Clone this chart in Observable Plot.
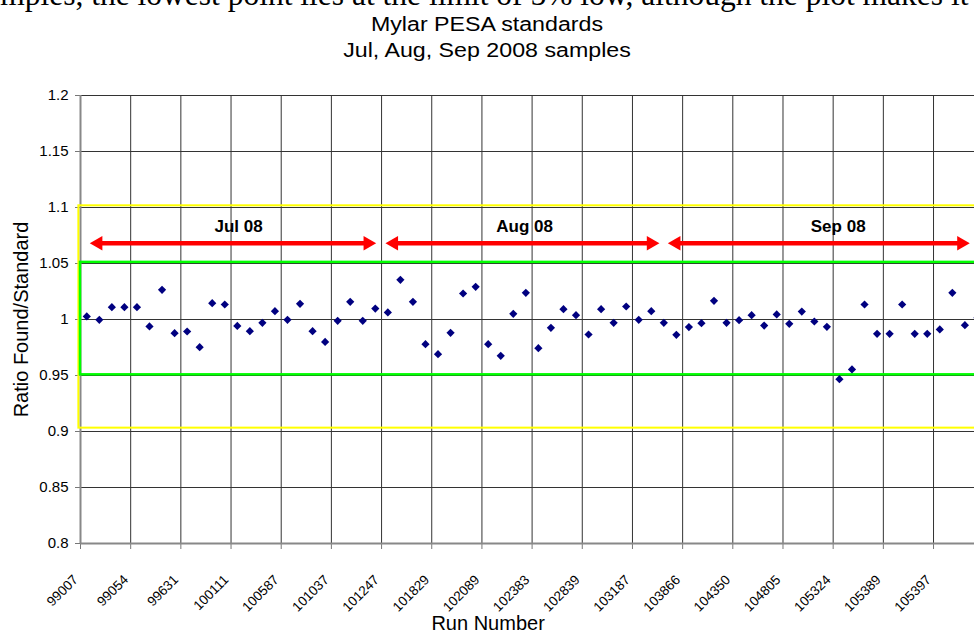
<!DOCTYPE html>
<html>
<head>
<meta charset="utf-8">
<script src="https://cdn.jsdelivr.net/npm/d3@7"></script>
<script src="https://cdn.jsdelivr.net/npm/@observablehq/plot@0.6"></script>
<style>
  html, body { margin: 0; padding: 0; background: #fff; width: 974px; height: 633px; overflow: hidden; }
  #header { position: relative; width: 974px; height: 70px; overflow: hidden; font-family: "Liberation Sans", Arial, sans-serif; }
  #doctext { position: absolute; left: -26px; top: -21px; white-space: nowrap; font-family: "Liberation Serif", "Times New Roman", serif; font-size: 31.5px; line-height: 31.5px; color: #000; }
  .title { position: absolute; left: 0; width: 974px; text-align: center; font-size: 20px; line-height: 20px; color: #000; transform: scaleX(1.16); transform-origin: 487px 0; }
  #chart svg { display: block; max-width: none; }
</style>
</head>
<body>
<div id="header">
  <div id="doctext">samples, the lowest point lies at the limit of 5% low, although the plot makes it look</div>
  <div class="title" style="top:14px">Mylar PESA standards</div>
  <div class="title" style="top:40px">Jul, Aug, Sep 2008 samples</div>
</div>
<div id="chart"></div>
<script>
// Run-number tick labels (one every 4 runs)
const runLabels = ["99007","99054","99631","100111","100587","101037","101247","101829","102089",
  "102383","102839","103187","103866","104350","104805","105324","105389","105397"];
const labelEvery = 4;
const nRuns = 72;

// Ratio Found/Standard for each run, in run order
const ratios = [
  1.0027, 0.9997, 1.0110, 1.0110, 1.0110, 0.9938, 1.0265, 0.9878, 0.9893, 0.9753,
  1.0146, 1.0134, 0.9943, 0.9896, 0.9970, 1.0074, 0.9997, 1.0140, 0.9896, 0.9800,
  0.9988, 1.0158, 0.9988, 1.0098, 1.0063, 1.0354, 1.0158, 0.9780, 0.9690, 0.9881,
  1.0232, 1.0292, 0.9780, 0.9676, 1.0051, 1.0238, 0.9744, 0.9926, 1.0092, 1.0039,
  0.9866, 1.0092, 0.9970, 1.0116, 0.9997, 1.0074, 0.9970, 0.9863, 0.9932, 0.9967,
  1.0167, 0.9970, 0.9994, 1.0039, 0.9946, 1.0045, 0.9961, 1.0071, 0.9982, 0.9935,
  0.9467, 0.9554, 1.0134, 0.9872, 0.9872, 1.0134, 0.9872, 0.9872, 0.9911, 1.0238,
  0.9949, 1.0015
];

// Y axis ticks
const yTicks = [0.8, 0.85, 0.9, 0.95, 1, 1.05, 1.1, 1.15, 1.2];
const yTickLabels = ["0.8", "0.85", "0.9", "0.95", "1", "1.05", "1.1", "1.15", "1.2"];

// Month periods (arrow extent in run units, label position)
const periodNames = ["Jul 08", "Aug 08", "Sep 08"];
const periodStart = [0.74, 24.31, 46.82];
const periodEnd = [23.57, 46.15, 70.89];
const periodLabelX = [12.6, 35.4, 60.4];
const arrowY = 1.068;
const periodLabelY = 1.0833;

// Limit boxes
const yellowBox = {y1: 0.903, y2: 1.1015, x1: -0.13};
const greenBox = {y1: 0.9506, y2: 1.051, x1: 0};

const points = ratios.map((v, i) => ({x: i + 0.5, v}));
const tickData = runLabels.map((label, k) => ({x: k * labelEvery + 0.5, label}));
const gridX = d3.range(0, nRuns + 1, labelEvery);
const periods = periodNames.map((name, k) => ({name, start: periodStart[k], end: periodEnd[k], lx: periodLabelX[k]}));

const plot = Plot.plot({
  width: 974,
  height: 563,
  marginLeft: 80,
  marginRight: -9.2,
  marginTop: 25,
  marginBottom: 90,
  x: {domain: [0, nRuns], axis: null},
  y: {domain: [0.8, 1.2], axis: null},
  style: {fontFamily: "'Liberation Sans', Arial, sans-serif", background: "white", color: "#000"},
  marks: [
    Plot.ruleY(yTicks, {stroke: "#333", strokeWidth: 1}),
    Plot.ruleX(gridX.slice(1), {stroke: "#333", strokeWidth: 1}),
    Plot.axisY({ticks: yTicks, tickSize: 5, tickPadding: 7, fontSize: 15, stroke: "#777",
      tickFormat: d => yTickLabels[yTicks.indexOf(d)], label: null}),
    Plot.axisX({ticks: gridX, tickSize: 6, tickFormat: () => "", stroke: "#777", label: null}),
    Plot.ruleX([0], {stroke: "#888", strokeWidth: 2}),
    Plot.ruleY([0.8], {stroke: "#888", strokeWidth: 2}),
    Plot.text(tickData, {x: "x", text: "label", frameAnchor: "bottom", rotate: -45, textAnchor: "end",
      lineAnchor: "middle", dx: -11, dy: 34, fontSize: 13.5}),
    Plot.rect([yellowBox], {x1: "x1", x2: () => nRuns + 2, y1: "y1", y2: "y2", fill: "none", stroke: "#ffff00", strokeWidth: 2}),
    Plot.rect([greenBox], {x1: "x1", x2: () => nRuns + 2, y1: "y1", y2: "y2", fill: "none", stroke: "#00ff00", strokeWidth: 2.5}),
    Plot.ruleY(periods, {y: () => arrowY, x1: "start", x2: "end", stroke: "#ff0000", strokeWidth: 4.5, insetLeft: 8, insetRight: 8}),
    Plot.dot(periods, {x: "start", y: () => arrowY, symbol: "triangle", r: 5.4, fill: "#ff0000", stroke: "none", rotate: -90, dx: 8.4}),
    Plot.dot(periods, {x: "end", y: () => arrowY, symbol: "triangle", r: 5.4, fill: "#ff0000", stroke: "none", rotate: 90, dx: -8.4}),
    Plot.text(periods, {x: "lx", y: () => periodLabelY, text: "name", fontWeight: "bold", fontSize: 17}),
    Plot.dot(points, {x: "x", y: "v", symbol: "diamond2", r: 3.7, fill: "#000080", stroke: "none"}),
    Plot.text(["Ratio Found/Standard"], {frameAnchor: "left", rotate: -90, dx: -59, fontSize: 20, textAnchor: "middle", lineAnchor: "middle"}),
    Plot.text(["Run Number"], {frameAnchor: "bottom", dx: -44, dy: 80, fontSize: 20, textAnchor: "middle", lineAnchor: "middle"})
  ]
});
document.getElementById("chart").appendChild(plot);
</script>
</body>
</html>
